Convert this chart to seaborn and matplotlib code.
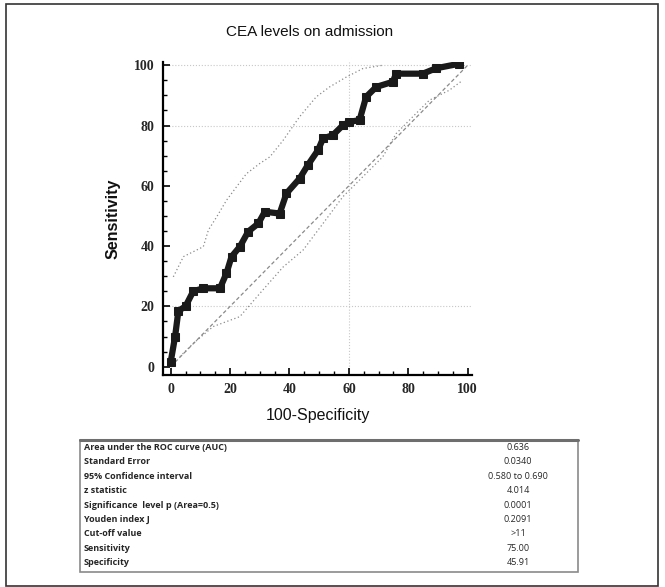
import matplotlib
matplotlib.use("Agg")
import matplotlib.pyplot as plt
import numpy as np
import pandas as pd
import seaborn as sns
from matplotlib.patches import Rectangle

# ROC curve (100-Specificity, Sensitivity)
roc_x = [0, 0, 1.5, 2.6, 2.6, 5, 7.6, 11, 16.6, 18.8, 20.5, 23.3, 26.1, 29.5, 31.7,
         36.7, 39, 43.4, 46.2, 49.6, 51.3, 54.6, 58, 60.2, 63.6, 65.8, 69.2, 74.8,
         75.9, 84.9, 89.4, 97.2]
roc_y = [0, 3, 10, 17, 20, 20, 25, 26, 26, 31, 36.5, 39.8, 44.8, 47.5, 51.4,
         50.8, 57.5, 62.4, 66.9, 71.8, 75.7, 76.8, 80.1, 81.2, 81.8, 89.5, 92.8, 94.5,
         97.2, 97.2, 99, 100.5]

# confidence bounds
upper_x = [0.9, 4.3, 11, 12.7, 15.5, 18.8, 22.2, 25.5, 30, 33.4, 37.8, 43.4, 49, 53.5, 59, 64.7, 71.4]
upper_y = [29.8, 36.5, 39.8, 45.3, 49.7, 55.2, 59.7, 64, 67.4, 69.6, 75, 82.9, 89.5, 92.8, 96, 98.9, 100]
lower_x = [3.1, 7.6, 14.3, 23.3, 31, 37.8, 44.6, 51.3, 58, 64.7, 71.4, 75.9, 81.5, 87.1, 93.8, 98.3]
lower_y = [3.3, 7.7, 13.3, 16.6, 25.4, 33, 38.7, 47.5, 56.4, 63, 69.6, 77.3, 82.9, 88.4, 91.7, 95]
diag_x = [0, 100]
diag_y = [0, 100]

# stats table
row_labels = ["Area under the ROC curve (AUC)", "Standard Error", "95% Confidence interval",
              "z statistic", "Significance  level p (Area=0.5)", "Youden index J",
              "Cut-off value", "Sensitivity", "Specificity"]
row_values = ["0.636", "0.0340", "0.580 to 0.690", "4.014", "0.0001", "0.2091",
              ">11", "75.00", "45.91"]

roc = pd.DataFrame({"x": roc_x, "y": roc_y})
up = pd.DataFrame({"x": upper_x, "y": upper_y})
lo = pd.DataFrame({"x": lower_x, "y": lower_y})
dg = pd.DataFrame({"x": diag_x, "y": diag_y})

sns.set_style("white")
plt.rcParams['font.family'] = ['Liberation Sans', 'DejaVu Sans']

fig = plt.figure(figsize=(6.65, 5.87), dpi=100)
ax = fig.add_axes([0.245, 0.361, 0.465, 0.533])

# faint grid lines
for yy in [20, 80, 100]:
    ax.axhline(yy, color="#c8c8c8", lw=0.8, ls=":", zorder=0)
ax.axvline(60, color="#c8c8c8", lw=0.8, ls=":", zorder=0)

sns.lineplot(data=dg, x="x", y="y", ax=ax, color="#8a8a8a", lw=0.9, linestyle=(0, (3, 2)), sort=False)
sns.lineplot(data=up, x="x", y="y", ax=ax, color="#8a8a8a", lw=0.9, linestyle=(0, (1, 2)), sort=False)
sns.lineplot(data=lo, x="x", y="y", ax=ax, color="#8a8a8a", lw=0.9, linestyle=(0, (1, 2)), sort=False)
sns.lineplot(data=roc, x="x", y="y", ax=ax, color="#1a1a1a", lw=4.5, marker="s",
             markersize=5.5, markeredgecolor="#1a1a1a", sort=False)

ax.set_xlim(-2.6, 101.5)
ax.set_ylim(-2.8, 101)
ax.set_xticks(np.arange(0, 101, 20))
ax.set_yticks(np.arange(0, 101, 20))
ax.set_xticks(np.arange(0, 101, 5), minor=True)
ax.set_yticks(np.arange(0, 101, 5), minor=True)
ax.tick_params(axis="both", which="major", direction="in", length=5, width=1.2,
               labelsize=10, pad=6, color="black")
ax.tick_params(axis="both", which="minor", direction="in", length=3, width=1, color="black")
ax.tick_params(bottom=True, left=True, which="both")
for lab in ax.get_xticklabels() + ax.get_yticklabels():
    lab.set_fontfamily("Liberation Serif")
    lab.set_fontweight("bold")
sns.despine(ax=ax)
for s in ["left", "bottom"]:
    ax.spines[s].set_linewidth(1.6)
    ax.spines[s].set_color("black")

ax.set_xlabel("100-Specificity", fontsize=11.5, labelpad=8, color="#111111")
ax.set_ylabel("Sensitivity", fontsize=11.5, fontweight="bold", labelpad=10, color="#111111")
fig.text(0.466, 0.946, "CEA levels on admission", ha="center", va="center", fontsize=11,
         color="#111111")

# statistics table
tx0, tx1 = 80 / 665, 578 / 665
ty0, ty1 = 1 - 572 / 587, 1 - 440 / 587
fig.add_artist(Rectangle((tx0, ty0), tx1 - tx0, ty1 - ty0, transform=fig.transFigure,
                         fill=False, edgecolor="#8a8a8a", lw=1.2))
fig.add_artist(plt.Line2D([tx0, tx1], [ty1, ty1], transform=fig.transFigure,
                          color="#6e6e6e", lw=2.2))
for i, (lab, val) in enumerate(zip(row_labels, row_values)):
    yy = 1 - (447.5 + i * 14.4) / 587
    fig.text(84 / 665, yy, lab, ha="left", va="center", fontsize=6.5, fontweight="bold",
             fontfamily="Open Sans")
    fig.text(518 / 665, yy, val, ha="center", va="center", fontsize=6.5, fontfamily="Open Sans")

# outer frame
fig.add_artist(Rectangle((6 / 665, 0.002), 652 / 665, 0.992, transform=fig.transFigure,
                         fill=False, edgecolor="#333333", lw=1.2))

fig.savefig("out.png", dpi=100)
